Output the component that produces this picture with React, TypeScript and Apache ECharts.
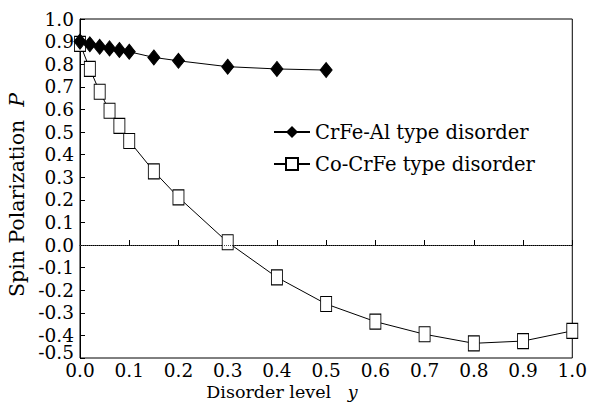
import React, { useEffect, useRef } from "react";
import * as echarts from "echarts";

const crfeAlX = [0, 0.02, 0.04, 0.06, 0.08, 0.1, 0.15, 0.2, 0.3, 0.4, 0.5];
const crfeAlP = [0.9, 0.888, 0.877, 0.87, 0.863, 0.855, 0.83, 0.815, 0.789, 0.779, 0.774];
const coCrfeX = [0, 0.02, 0.04, 0.06, 0.08, 0.1, 0.15, 0.2, 0.3, 0.4, 0.5, 0.6, 0.7, 0.8, 0.9, 1.0];
const coCrfeP = [0.89, 0.779, 0.678, 0.594, 0.527, 0.46, 0.326, 0.211, 0.012, -0.143, -0.261, -0.339, -0.395, -0.435, -0.425, -0.38];
const seriesNames = ["CrFe-Al type disorder", "Co-CrFe type disorder"];
const yMinLabel = "-0.5";

const FONT = "'DejaVu Serif', serif";

export default function App() {
  const ref = useRef<HTMLDivElement>(null);
  useEffect(() => {
    if (!ref.current) return;
    const chart = echarts.init(ref.current, undefined, { renderer: "svg" });
    chart.setOption({
      animation: false,
      backgroundColor: "#fff",
      grid: { left: 80, right: 11, top: 19, bottom: 49, show: true, borderColor: "#000", borderWidth: 1 },
      xAxis: {
        type: "value",
        min: 0,
        max: 1,
        interval: 0.1,
        axisLine: { show: true, lineStyle: { color: "#000" } },
        axisTick: { show: true, inside: true, length: 5, lineStyle: { color: "#000" } },
        splitLine: { show: false },
        axisLabel: {
          color: "#000",
          fontFamily: FONT,
          fontSize: 18.5,
          margin: 3,
          showMinLabel: true,
          showMaxLabel: true,
          formatter: (v: number) => v.toFixed(1),
        },
      },
      yAxis: {
        type: "value",
        min: -0.5,
        max: 1.0,
        interval: 0.1,
        axisLine: { show: true, lineStyle: { color: "#000" } },
        axisTick: { show: true, inside: true, length: 5, lineStyle: { color: "#000" } },
        splitLine: { show: false },
        axisLabel: {
          color: "#000",
          fontFamily: FONT,
          fontSize: 18.5,
          margin: 6,
          showMaxLabel: true,
          formatter: (v: number) => (Math.abs(v + 0.5) < 1e-6 ? "" : v.toFixed(1)),
        },
      },
      legend: {
        left: 268,
        top: 117,
        orient: "vertical",
        itemGap: 12,
        itemWidth: 36,
        itemHeight: 15,
        textStyle: { color: "#000", fontFamily: FONT, fontSize: 19.5 },
        data: seriesNames,
      },
      graphic: [
        {
          type: "text",
          x: 74,
          y: 352,
          style: {
            text: yMinLabel,
            fill: "#000",
            font: `18.5px ${FONT}`,
            align: "right",
            verticalAlign: "middle",
          },
        },
        {
          type: "text",
          x: 17,
          y: 195,
          rotation: Math.PI / 2,
          style: {
            text: "Spin Polarization  {i|P}",
            fill: "#000",
            font: `20.5px ${FONT}`,
            align: "center",
            verticalAlign: "middle",
            rich: { i: { fontStyle: "italic", fontFamily: FONT, fontSize: 20.5, fill: "#000" } },
          },
        },
        {
          type: "text",
          x: 282,
          y: 392,
          style: {
            text: "Disorder level   {i|y}",
            fill: "#000",
            font: `17.5px ${FONT}`,
            align: "center",
            verticalAlign: "middle",
            rich: { i: { fontStyle: "italic", fontFamily: FONT, fontSize: 17.5, fill: "#000" } },
          },
        },
      ],
      series: [
        {
          name: seriesNames[0],
          type: "line",
          data: crfeAlX.map((x, i) => [x, crfeAlP[i]]),
          symbol: "diamond",
          symbolSize: [12, 15],
          showAllSymbol: true,
          lineStyle: { color: "#000", width: 1 },
          itemStyle: { color: "#000", borderColor: "#000" },
          z: 3,
        },
        {
          name: seriesNames[1],
          type: "line",
          data: coCrfeX.map((x, i) => [x, coCrfeP[i]]),
          symbol: "rect",
          symbolSize: [11, 15],
          showAllSymbol: true,
          lineStyle: { color: "#000", width: 1 },
          itemStyle: { color: "#fff", borderColor: "#000", borderWidth: 1 },
          z: 2,
          markLine: {
            silent: true,
            symbol: "none",
            label: { show: false },
            lineStyle: { color: "#444", type: [1, 1], width: 1 },
            data: [{ yAxis: 0 }],
          },
        },
      ],
    });
    return () => chart.dispose();
  }, []);
  return <div ref={ref} style={{ position: "absolute", left: 0, top: 0, width: 590, height: 407 }} />;
}
